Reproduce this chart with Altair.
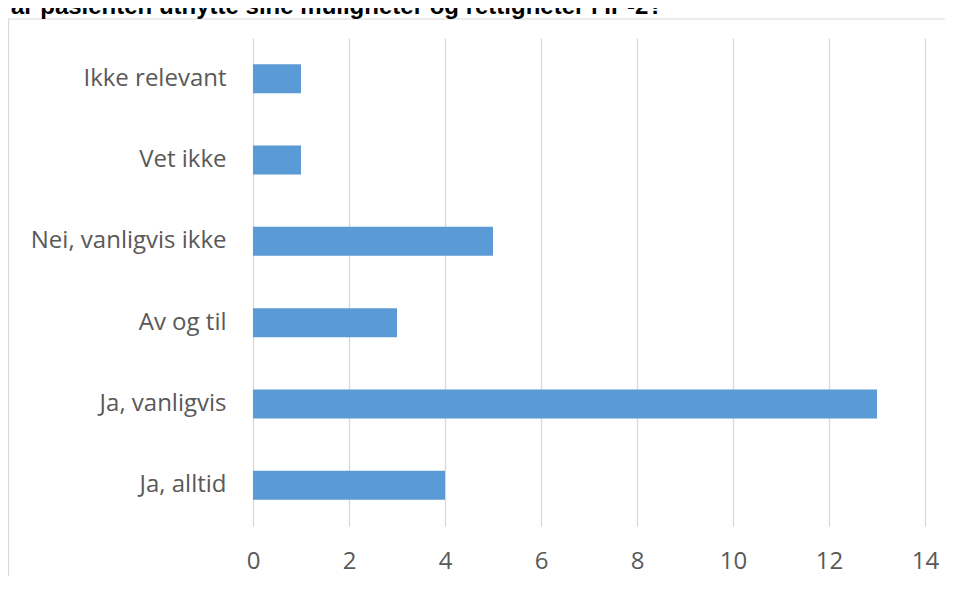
import altair as alt
import pandas as pd

categories = ["Ikke relevant", "Vet ikke", "Nei, vanligvis ikke", "Av og til", "Ja, vanligvis", "Ja, alltid"]
values = [1, 1, 5, 3, 13, 4]
x_ticks = [0, 2, 4, 6, 8, 10, 12, 14]
title_text = "Får pasienten utnytte sine muligheter og rettigheter i IP-2?"

df = pd.DataFrame({"kategori": categories, "antall": values})
one = pd.DataFrame({"k": [0]})

W, H = 672, 488

border = alt.Chart(one).mark_rect(fill="white", fillOpacity=0, stroke="#D9D9D9", strokeWidth=1.2).encode(
    x=alt.value(-244.5), x2=alt.value(W + 200), y=alt.value(-19), y2=alt.value(H + 200)
)

title = alt.Chart(one).mark_text(
    text=title_text, font="Liberation Sans", fontWeight="bold", fontSize=24,
    align="right", baseline="alphabetic", color="#000000"
).encode(x=alt.value(410), y=alt.value(-24))

bars = alt.Chart(df).mark_bar(color="#5B9BD5").encode(
    x=alt.X("antall:Q",
            scale=alt.Scale(domain=[0, 14], nice=False),
            axis=alt.Axis(values=x_ticks, title=None, grid=True, gridColor="#D9D9D9", gridWidth=1.3,
                          domain=False, ticks=False, labelFont="Open Sans", labelFontSize=24,
                          labelColor="#595959", labelPadding=23, labelFlush=False)),
    y=alt.Y("kategori:N", sort=categories,
            scale=alt.Scale(paddingInner=0.643, paddingOuter=0.3215),
            axis=alt.Axis(title=None, domain=False, ticks=False, grid=False, labelFont="Open Sans",
                          labelFontSize=24, labelColor="#595959", labelPadding=27, labelLimit=300)),
)

chart = alt.layer(border, bars, title).properties(
    width=W, height=H,
    background="white",
    autosize=alt.AutoSizeParams(type="none"),
    padding={"left": 245, "top": 30, "right": 20, "bottom": 50},
).configure_view(stroke=None)

chart.save("out.html", embed_options={"renderer": "svg", "actions": False})
